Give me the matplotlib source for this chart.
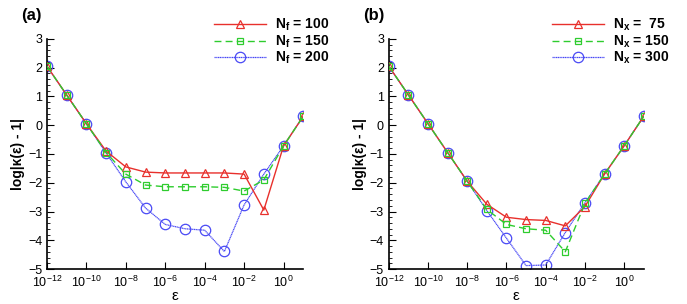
import numpy as np
import matplotlib
matplotlib.use("Agg")
import matplotlib.pyplot as plt
from matplotlib.ticker import MultipleLocator, FixedLocator

plt.rcParams.update({
    "font.family": ["Liberation Sans", "DejaVu Sans"],
    "mathtext.fontset": "custom",
    "mathtext.rm": "Liberation Sans",
    "mathtext.it": "Liberation Sans:italic",
    "mathtext.bf": "Liberation Sans:bold",
    "font.size": 9,
    "xtick.direction": "in",
    "ytick.direction": "in",
    "xtick.major.size": 5,
    "ytick.major.size": 5,
    "ytick.minor.size": 2.5,
    "xtick.major.pad": 4.5,
    "axes.linewidth": 1.2,
})

COL_RED = "#e8302c"
COL_GREEN = "#2ecc2e"
COL_BLUE = "#4a4af5"

# epsilon = 10^-12 ... 10^1
log_eps = np.arange(-12, 2)
eps = 10.0 ** log_eps

# panel (a): varying N_f
a_n100 = [2.05, 1.05, 0.05, -0.9, -1.45, -1.63, -1.66, -1.66, -1.66, -1.66, -1.7, -2.95, -0.72, 0.31]
a_n150 = [2.05, 1.05, 0.05, -0.95, -1.7, -2.08, -2.14, -2.14, -2.14, -2.16, -2.29, -1.9, -0.72, 0.31]
a_n200 = [2.05, 1.05, 0.05, -0.97, -1.97, -2.88, -3.45, -3.6, -3.65, -4.39, -2.77, -1.7, -0.72, 0.31]

# panel (b): varying N_x
b_n75 = [2.05, 1.05, 0.05, -0.95, -1.95, -2.75, -3.2, -3.28, -3.31, -3.5, -2.83, -1.7, -0.72, 0.31]
b_n150 = [2.05, 1.05, 0.05, -0.95, -1.95, -2.93, -3.45, -3.6, -3.65, -4.4, -2.72, -1.7, -0.72, 0.31]
b_n300 = [2.05, 1.05, 0.05, -0.95, -1.95, -2.97, -3.93, -4.88, -4.86, -3.73, -2.7, -1.7, -0.72, 0.31]

labels_a = [r"N$_\mathregular{f}$ = 100", r"N$_\mathregular{f}$ = 150", r"N$_\mathregular{f}$ = 200"]
labels_b = [r"N$_\mathregular{x}$ =  75", r"N$_\mathregular{x}$ = 150", r"N$_\mathregular{x}$ = 300"]

xticks = 10.0 ** np.arange(-12, 1, 2)


def setup_ax(ax, tag):
    ax.set_xscale("log")
    ax.set_xlim(1e-12, 10.0)
    ax.set_ylim(-5, 3)
    ax.xaxis.set_major_locator(FixedLocator(xticks))
    ax.xaxis.set_minor_locator(FixedLocator([]))
    ax.set_xticklabels([rf"10$^{{{int(np.log10(t))}}}$" for t in xticks])
    ax.yaxis.set_major_locator(MultipleLocator(1))
    ax.yaxis.set_minor_locator(MultipleLocator(0.2))
    ax.spines["top"].set_visible(False)
    ax.spines["right"].set_visible(False)
    ax.set_xlabel("ε", fontsize=11, labelpad=-1)
    ax.set_ylabel("log|κ(ε) - 1|", fontsize=10, fontweight="bold", labelpad=2)
    ax.text(-0.1, 1.10, tag, transform=ax.transAxes, fontsize=12,
            fontweight="bold", va="center", ha="left")


def draw(ax, series, labels):
    h1, = ax.plot(eps, series[0], color=COL_RED, lw=1.0, marker="^", ms=6,
                  mfc="none", mec=COL_RED, mew=0.9, label=labels[0], zorder=3)
    h2, = ax.plot(eps, series[1], color=COL_GREEN, lw=1.0, ls=(0, (5, 3)), marker="s", ms=4.5,
                  mfc="none", mec=COL_GREEN, mew=0.9, label=labels[1], zorder=4)
    h3, = ax.plot(eps, series[2], color=COL_BLUE, lw=0.9, ls=(0, (1, 0.4)), marker="o", ms=7.5,
                  mfc="none", mec=COL_BLUE, mew=0.9, label=labels[2], zorder=2)
    leg = ax.legend(handles=[h1, h2, h3], loc="upper right", bbox_to_anchor=(1.1, 1.095),
                    frameon=False, handlelength=3.7, handletextpad=0.65,
                    labelspacing=0.0, borderpad=0, borderaxespad=0,
                    prop={"weight": "bold", "size": 10})
    return leg


fig = plt.figure(figsize=(6.87, 3.04), dpi=100)
ax_a = fig.add_axes([0.0684, 0.115, 0.373, 0.757])
ax_b = fig.add_axes([0.566, 0.115, 0.371, 0.757])

setup_ax(ax_a, "(a)")
setup_ax(ax_b, "(b)")
draw(ax_a, [a_n100, a_n150, a_n200], labels_a)
draw(ax_b, [b_n75, b_n150, b_n300], labels_b)

fig.savefig("out.png", dpi=100)
